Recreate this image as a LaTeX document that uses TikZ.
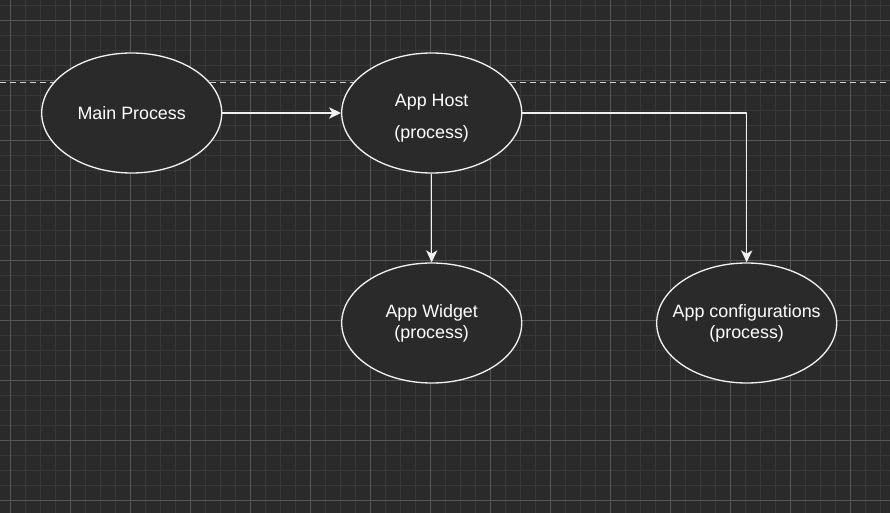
\documentclass[tikz,border=0pt]{standalone}
\usepackage{fontspec}
\setmainfont{Liberation Sans}
\usetikzlibrary{arrows.meta,positioning,shapes.geometric}
\definecolor{canvas}{HTML}{2A2A2A}
\definecolor{gridminor}{HTML}{383838}
\definecolor{gridmajor}{HTML}{575757}
\definecolor{inkwhite}{HTML}{F0F0F0}
\definecolor{sepline}{HTML}{CFCFCF}

\begin{document}
\begin{tikzpicture}[x=0.75pt, y=-0.75pt, line join=round,
  proc/.style={ellipse, draw=inkwhite, line width=1pt, fill=canvas,
    minimum width=135pt, minimum height=90pt, inner sep=0pt},
  proctext/.style={text=white, align=center,
    font=\fontsize{13.4}{15.75}\selectfont},
  link/.style={draw=inkwhite, line width=1pt,
    -{Stealth[length=9pt, width=8.5pt, inset=2.5pt]}}]
% canvas and grid (pixel units, y downwards)
\def\W{890}
\def\H{513}
\fill[canvas] (0,0) rectangle (\W,\H);
\useasboundingbox (0,0) rectangle (\W,\H);
\foreach \gx in {10,25,...,880}{
  \draw[gridminor, line width=0.75pt] (\gx,0) -- (\gx,\H);
}
\foreach \gy in {6,21,...,511}{
  \draw[gridminor, line width=0.75pt] (0,\gy) -- (\W,\gy);
}
\foreach \gx in {10,70,...,850}{
  \draw[gridmajor, line width=0.75pt] (\gx,0) -- (\gx,\H);
}
\foreach \gy in {21,81,...,501}{
  \draw[gridmajor, line width=0.75pt] (0,\gy) -- (\W,\gy);
}
% separator
\draw[sepline, line width=1.1pt, dash pattern=on 4.5pt off 3pt] (0,82.5) -- (\W,82.5);
% processes
\node[proc, label={[proctext, name=main-t]center:Main Process}] (main) at (131.7,113) {};
\node[proc, label={[proctext, name=host-t, yshift=-3.75pt]center:{App Host\\[8pt](process)}}] (host) at (431.7,113) {};
\node[proc, label={[proctext, name=widget-t]center:{App Widget\\(process)}}] (widget) at (431.7,323) {};
\node[proc, label={[proctext, name=config-t]center:{App configurations\\(process)}}] (config) at (746.7,323) {};
% links
\draw[link] (main) -- (host);
\draw[link] (host) -- (widget);
\draw[link] (host.east) -| (config.north);
\end{tikzpicture}
\end{document}
